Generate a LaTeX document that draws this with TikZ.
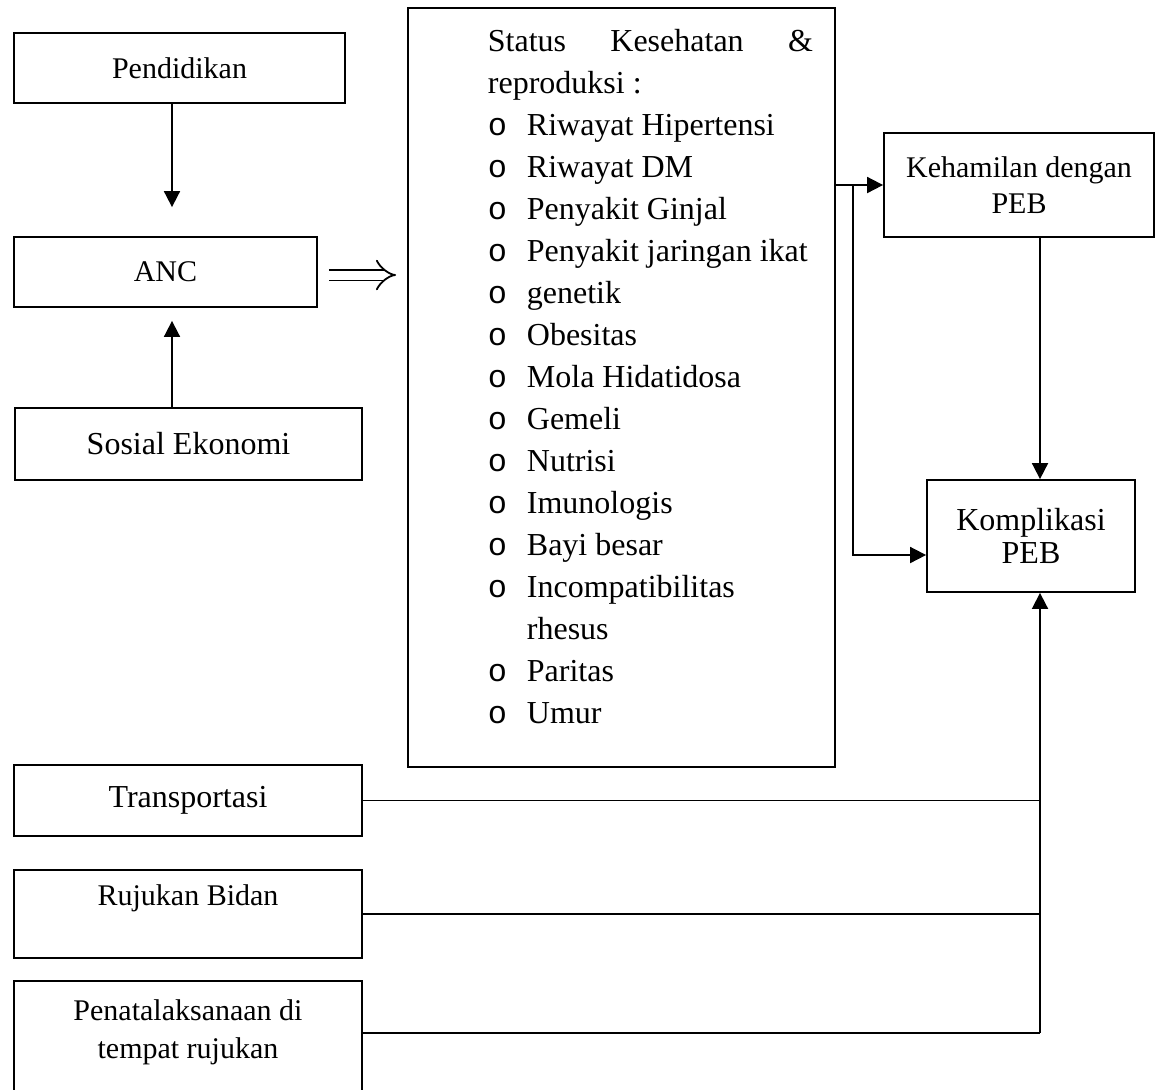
\documentclass[tikz,border=0pt]{standalone}
\usepackage{fontspec}
\setmainfont{Liberation Serif}
\newfontfamily\bulfont{Liberation Mono}
\usetikzlibrary{arrows.meta}
\newcommand{\bul}{\makebox[19.5pt][l]{\bulfont o}}

\begin{document}
\begin{tikzpicture}[x=0.5pt,y=-0.5pt,
every node/.style={draw,rectangle,line width=0.9pt,inner sep=0pt,align=center},
arr/.style={line width=0.9pt,-{Triangle[length=8pt,width=8pt]}},
ln/.style={line width=0.9pt}]
\useasboundingbox (0,0) rectangle (1161,1089);

\node[minimum width=165.5pt,minimum height=35pt,font=\fontsize{15}{19}\selectfont] (pend) at (179.5,68) {Pendidikan};
\node[minimum width=151.5pt,minimum height=35pt,font=\fontsize{15}{19}\selectfont] (anc) at (165.5,272) {ANC};
\node[minimum width=173.5pt,minimum height=36pt,font=\fontsize{16}{21}\selectfont] (sosek) at (188.5,444) {Sosial Ekonomi};

\node[minimum width=213.5pt,minimum height=379.5pt] (status) at (621.5,387.5) {};
\node[draw=none,anchor=north west,align=left,font=\fontsize{16}{21}\selectfont] (statlist) at (487,28) {%
\makebox[162.5pt][s]{Status\hfill Kesehatan\hfill\&}\\
reproduksi :\\
\bul Riwayat Hipertensi\\
\bul Riwayat DM\\
\bul Penyakit Ginjal\\
\bul Penyakit jaringan ikat\\
\bul genetik\\
\bul Obesitas\\
\bul Mola Hidatidosa\\
\bul Gemeli\\
\bul Nutrisi\\
\bul Imunologis\\
\bul Bayi besar\\
\bul Incompatibilitas\\
\hspace*{19.5pt}rhesus\\
\bul Paritas\\
\bul Umur};

\node[minimum width=135pt,minimum height=52pt,font=\fontsize{15}{18}\selectfont] (hamil) at (1019,185) {Kehamilan dengan\\PEB};
\node[minimum width=104pt,minimum height=56pt,font=\fontsize{16}{16.5}\selectfont] (kompl) at (1031,536) {Komplikasi\\PEB};

\node[minimum width=174pt,minimum height=35.5pt,font=\fontsize{16}{21}\selectfont] (trans) at (188,800.5) {Transportasi};
\node[minimum width=174pt,minimum height=44pt,font=\fontsize{15}{19}\selectfont] (rujuk) at (188,914) {Rujukan Bidan\\\mbox{}};
\node[minimum width=174pt,minimum height=67pt,font=\fontsize{15}{19}\selectfont] (tata) at (188,1048) {Penatalaksanaan di\\tempat rujukan\\\mbox{}};

\coordinate (fork) at (853,185);
\coordinate (join) at (1040,1033);

\draw[arr,shorten >=14.5pt] ([xshift=-3.75pt]pend.south) -- ([xshift=3.25pt]anc.north);
\draw[arr,shorten >=6.5pt] ([xshift=-8.25pt]sosek.north) -- ([xshift=3.25pt]anc.south);
\draw[line width=0.9pt,double distance=4.5pt,-{Implies},shorten <=5.5pt,shorten >=5.5pt]
  ([yshift=-1.5pt]anc.east) -- ([yshift=-1.5pt]anc.east -| status.west);

\draw[arr] (hamil.west -| status.east) -- (hamil.west);
\draw[arr] (fork) |- ([yshift=-9.5pt]kompl.west);
\draw[arr] (hamil.south -| join) -- (kompl.north -| join);

\draw[ln] (trans.east) -- (trans.east -| join);
\draw[ln] (rujuk.east) -- (rujuk.east -| join);
\draw[ln] (tata.east |- join) -- (join);
\draw[arr] (join) -- (kompl.south -| join);

\end{tikzpicture}
\end{document}
